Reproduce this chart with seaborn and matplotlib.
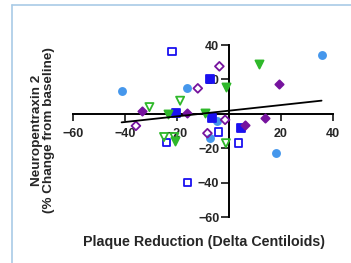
import numpy as np
import seaborn as sns
import matplotlib.pyplot as plt
from matplotlib.lines import Line2D

# data (x = delta centiloids, y = % change NPTX2)
circle_x = [-41.3, -16.3, 35.6, -4.5, -7.3, 18.0]
circle_y = [13.4, 15.0, 34.4, -3.9, -14.2, -22.9]

open_sq_x = [-22.0, -24.0, -16.0, -4.1, 3.6]
open_sq_y = [36.3, -16.7, -40.0, -10.7, -17.1]

fill_sq_x = [-20.4, -7.5, -6.7, 4.5]
fill_sq_y = [0.4, 20.0, -2.5, -8.0]

open_tri_x = [-18.8, -30.6, -25.0, -21.0, -1.2]
open_tri_y = [7.6, 3.9, -13.5, -13.5, -17.1]

fill_tri_x = [-23.3, -9.2, -1.2, 11.7, -20.8]
fill_tri_y = [0.0, 0.4, 15.6, 29.0, -16.0]

open_dia_x = [-12.0, -3.7, -35.8, -1.5, -8.3]
open_dia_y = [14.8, 27.6, -7.0, -3.5, -11.3]

fill_dia_x = [-33.6, -16.0, 19.4, 13.8, 6.2]
fill_dia_y = [1.4, 0.4, 17.3, -2.5, -6.4]

ticks = [-60, -40, -20, 20, 40]

LIGHTBLUE = '#4597ec'
BLUE = '#1a10f0'
GREEN = '#2fb82a'
PURPLE = '#76139e'

sns.set_style('white')
plt.rcParams['font.family'] = ['Liberation Sans', 'DejaVu Sans']
plt.rcParams['font.weight'] = 'bold'

fig = plt.figure(figsize=(3.51, 2.63), dpi=100)
ax = fig.add_axes([73 / 351, 1 - 217 / 263, 260 / 351, 172 / 263])

groups = [
    (circle_x, circle_y, 'o', LIGHTBLUE, True, 26),
    (open_sq_x, open_sq_y, 's', BLUE, False, 30),
    (fill_sq_x, fill_sq_y, 's', BLUE, True, 30),
    (open_tri_x, open_tri_y, 'v', GREEN, False, 34),
    (fill_tri_x, fill_tri_y, 'v', GREEN, True, 34),
    (open_dia_x, open_dia_y, 'D', PURPLE, False, 20),
    (fill_dia_x, fill_dia_y, 'D', PURPLE, True, 18),
]
for gx, gy, mk, col, filled, size in groups:
    sns.scatterplot(x=gx, y=gy, ax=ax, marker=mk, s=size,
                    color=col, edgecolor=col,
                    facecolor=col if filled else 'none',
                    linewidth=1.3, clip_on=False, zorder=3)

all_x = np.concatenate([g[0] for g in groups])
all_y = np.concatenate([g[1] for g in groups])
sns.regplot(x=all_x, y=all_y, ax=ax, scatter=False, ci=None, truncate=True,
            color='black', line_kws={'linewidth': 1.3, 'zorder': 4})

ax.set_xlim(-60, 40)
ax.set_ylim(-60, 40)
ax.spines['left'].set_position(('data', 0))
ax.spines['bottom'].set_position(('data', 0))
ax.spines['top'].set_visible(False)
ax.spines['right'].set_visible(False)
for sp in ('left', 'bottom'):
    ax.spines[sp].set_linewidth(1.4)
    ax.spines[sp].set_color('black')
ax.set_xticks(ticks)
ax.set_yticks(ticks)
ax.tick_params(axis='x', direction='out', length=5, width=1.3, pad=5,
               labelsize=9, bottom=True)
ax.tick_params(axis='y', direction='out', length=6, width=1.3, pad=1,
               labelsize=9, left=True)
for lab in ax.get_xticklabels() + ax.get_yticklabels():
    lab.set_fontweight('bold')
ax.set_xlabel('')
ax.set_ylabel('')

fig.text(204 / 351, 1 - 242 / 263, 'Plaque Reduction (Delta Centiloids)',
         ha='center', va='center', fontsize=10.3, fontweight='bold')
fig.text(43 / 351, 1 - 130 / 263, 'Neuropentraxin 2\n(% Change from baseline)',
         ha='center', va='center', rotation=90, fontsize=9.7,
         fontweight='bold', linespacing=1.05)

# light blue frame on the upper-left
edge = '#a9cbe6'
fig.add_artist(Line2D([11.5 / 351, 11.5 / 351], [0, 1 - 4.5 / 263],
                      color=edge, linewidth=1.2))
fig.add_artist(Line2D([11.5 / 351, 1], [1 - 4.5 / 263, 1 - 4.5 / 263],
                      color=edge, linewidth=1.2))

fig.savefig('out.png', dpi=100)
